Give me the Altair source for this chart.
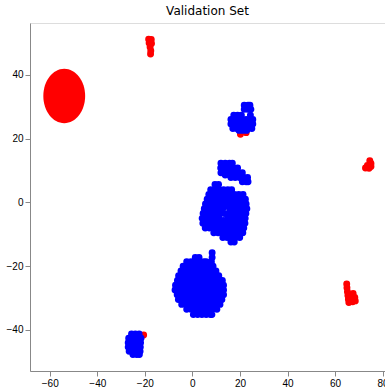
import altair as alt
import pandas as pd

# ---------------- data ----------------
# Blue clusters, written as rows: (y, [x values along that row])
blue_upper_rows = [
    (30.5, [21.8, 23.4, 24.2]),
    (29.2, [21.8, 23.2, 24.6]),
    (27.4, [17.4, 19.0, 20.6, 24.4]),
    (26.0, [16.2, 17.8, 19.4, 21.0, 22.6, 24.2, 25.4]),
    (24.6, [16.2, 17.8, 19.4, 21.0, 22.6, 24.2, 25.4]),
    (23.2, [17.0, 18.6, 20.2, 21.8, 23.4, 25.0]),
    (22.6, [19.6, 21.2, 22.8]),
]
blue_band_rows = [
    (12.3, [12.0, 13.8, 15.6, 16.8]),
    (10.8, [11.9, 13.7, 15.5, 17.3, 19.0]),
    (9.3, [12.0, 13.8, 15.6, 17.4, 19.2, 21.0]),
    (8.6, [13.8, 15.6]),
    (7.8, [16.2, 18.0, 19.8, 21.6, 23.2]),
    (6.5, [21.0, 22.6, 23.4]),
]
blue_middle_rows = [
    (5.6, [9.5, 11.0]),
    (4.0, [7.7, 9.5, 11.3, 13.1, 14.9, 16.5]),
    (2.5, [6.9, 8.7, 10.5, 12.3, 14.1, 15.9, 17.7, 19.5, 21.3]),
    (1.0, [6.2, 8.0, 9.8, 11.6, 13.4, 15.2, 17.0, 18.8, 20.6, 22.3]),
    (-0.5, [5.5, 7.3, 9.1, 10.9, 12.7, 14.5, 16.3, 18.1, 19.9, 21.7, 22.6]),
    (-1.5, [13.3]),
    (-2.0, [5.0, 6.8, 8.6, 10.4, 12.2, 15.8, 17.6, 19.4, 21.2, 22.9]),
    (-3.5, [4.5, 6.3, 8.1, 9.9, 11.7, 13.5, 15.3, 17.1, 18.9, 20.7, 22.5]),
    (-5.0, [4.1, 5.9, 7.7, 9.5, 11.3, 14.9, 16.7, 18.5, 20.3, 22.2]),
    (-5.7, [13.2]),
    (-6.5, [4.4, 6.2, 8.0, 9.8, 11.6, 13.4, 15.2, 17.0, 18.8, 20.6, 22.1]),
    (-8.0, [5.4, 7.2, 9.0, 10.8, 12.6, 14.4, 16.2, 18.0, 19.8, 21.6]),
    (-9.5, [9.0, 10.8, 12.6, 14.4, 16.2, 18.0, 19.8, 21.2]),
    (-11.0, [12.8, 14.6, 16.4, 18.2, 19.9]),
    (-12.4, [16.2, 17.6]),
]
blue_lower_rows = [
    (-15.8, [8.3]),
    (-17.3, [1.2, 2.8, 8.3]),
    (-18.6, [-2.4, -0.6, 1.2, 3.0, 4.8, 5.8, 8.0]),
    (-20.0, [-3.9, -2.1, -0.3, 1.5, 3.3, 5.1, 6.9, 8.7]),
    (-21.5, [-4.8, -3.0, -1.2, 0.6, 2.4, 4.2, 6.0, 7.8, 9.9]),
    (-23.0, [-5.8, -4.0, -2.2, -0.4, 1.4, 3.2, 5.0, 6.8, 8.6, 10.4, 11.1]),
    (-24.5, [-6.3, -4.5, -2.7, -0.9, 0.9, 2.7, 4.5, 6.3, 8.1, 9.9, 11.7, 12.6]),
    (-26.0, [-7.1, -5.3, -3.5, -1.7, 0.1, 1.9, 3.7, 5.5, 7.3, 9.1, 10.9, 12.7, 13.1]),
    (-27.5, [-7.3, -5.5, -3.7, -1.9, -0.1, 1.7, 3.5, 5.3, 7.1, 8.9, 10.7, 12.5, 13.1]),
    (-29.0, [-6.4, -4.6, -2.8, -1.0, 0.8, 2.6, 4.4, 6.2, 8.0, 9.8, 11.6, 13.1]),
    (-30.5, [-5.9, -4.1, -2.3, -0.5, 1.3, 3.1, 4.9, 6.7, 8.5, 10.3, 12.1, 12.4]),
    (-32.0, [-4.5, -2.7, -0.9, 0.9, 2.7, 4.5, 6.3, 8.1, 9.9, 11.6]),
    (-33.5, [-2.4, -0.6, 1.2, 3.0, 4.8, 6.6, 8.4, 10.3]),
    (-35.2, [0.4, 2.2, 4.0, 5.8, 7.6, 8.2]),
]
blue_bottom_left_rows = [
    (-41.3, [-25.6, -24.0, -22.4]),
    (-42.6, [-26.8, -25.2, -23.6, -22.0, -21.6]),
    (-44.0, [-27.0, -25.4, -23.8, -22.2, -21.8]),
    (-45.4, [-27.0, -25.4, -23.8, -22.2, -21.9]),
    (-46.7, [-26.6, -25.0, -23.4, -22.0]),
    (-47.7, [-25.0, -23.4, -22.3]),
]

# Red clusters as (x, y) points
red_top = [(-18.4, 51.2), (-17.3, 51.1), (-18.2, 50.0), (-17.2, 49.9),
           (-17.8, 48.8), (-17.5, 47.6), (-17.6, 46.6)]
red_right = [(74.6, 13.1), (75.1, 12.2), (73.6, 11.6), (72.8, 10.8),
             (74.3, 10.7), (75.1, 11.3)]
red_lower_right = [(64.9, -25.6), (65.0, -26.8), (65.2, -28.0), (65.4, -29.2),
                   (65.6, -30.4), (65.8, -31.4), (66.4, -29.6), (66.6, -30.8),
                   (67.6, -28.6), (68.3, -29.8), (68.5, -30.9), (67.4, -31.2),
                   (67.2, -29.8)]
red_near_blue = [(20.2, 21.4), (22.6, 21.9), (-20.5, -41.6)]
red_big_center = [(-53.9, 33.4)]

# x / y axis ticks
x_ticks = [-60, -40, -20, 0, 20, 40, 60, 80]
y_ticks = [-40, -20, 0, 20, 40]


def rows_to_points(rows):
    return [(x, y) for y, xs in rows for x in xs]


blue_pts = (rows_to_points(blue_upper_rows) + rows_to_points(blue_band_rows)
            + rows_to_points(blue_middle_rows) + rows_to_points(blue_lower_rows)
            + rows_to_points(blue_bottom_left_rows))
red_pts = red_top + red_right + red_lower_right + red_near_blue

blue_df = pd.DataFrame(blue_pts, columns=["x", "y"])
red_df = pd.DataFrame(red_pts, columns=["x", "y"])
big_df = pd.DataFrame(red_big_center, columns=["x", "y"])

xs = alt.Scale(domain=[-68.3, 81.0], nice=False, zero=False)
ys = alt.Scale(domain=[-52.9, 56.3], nice=False, zero=False)

x_enc = alt.X("x:Q", scale=xs, title=None,
              axis=alt.Axis(values=x_ticks, labelFlush=False, grid=False))
y_enc = alt.Y("y:Q", scale=ys, title=None,
              axis=alt.Axis(values=y_ticks, grid=False))

red_layer = alt.Chart(red_df).mark_circle(size=48, opacity=1, color="#ff0000").encode(
    x=x_enc, y=y_enc)
blue_layer = alt.Chart(blue_df).mark_circle(size=48, opacity=1, color="#0000ff").encode(
    x=x_enc, y=y_enc)

ellipse_path = ("M 0.77 0 C 0.77 0.5523 0.4253 1 0 1 C -0.4253 1 -0.77 0.5523 -0.77 0 "
                "C -0.77 -0.5523 -0.4253 -1 0 -1 C 0.4253 -1 0.77 -0.5523 0.77 0 Z")
big_layer = alt.Chart(big_df).mark_point(
    filled=True, shape=ellipse_path, size=2950, opacity=1, color="#ff0000", strokeWidth=0
).encode(x=x_enc, y=y_enc)

chart = alt.layer(red_layer, blue_layer, big_layer).properties(
    width=355,
    height=348,
    title=alt.TitleParams("Validation Set", font="DejaVu Sans", fontSize=12,
                          fontWeight="normal", color="black", offset=5),
    autosize=alt.AutoSizeParams(type="none"),
    padding={"left": 30, "top": 23, "right": 0, "bottom": 18},
).configure_view(
    stroke="black", strokeWidth=1
).configure_axis(
    domain=False,
    tickColor="black", tickSize=3.5, tickWidth=0.8,
    labelFont="DejaVu Sans", labelFontSize=10, labelColor="black", labelPadding=3,
).configure(background="white")

chart.save("out.html", embed_options={"renderer": "svg", "actions": False})
